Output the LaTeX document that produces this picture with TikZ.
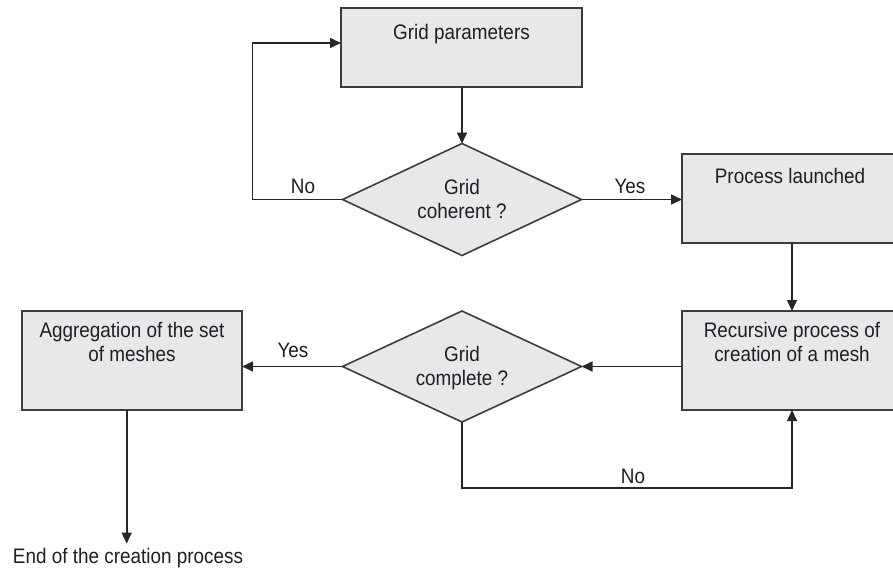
\documentclass[tikz,border=0pt]{standalone}
\usepackage{fontspec}
\setmainfont{Liberation Sans}[FakeStretch=0.9]
\usetikzlibrary{shapes.geometric,arrows.meta}
\definecolor{boxfill}{HTML}{E8E8E8}
\definecolor{boxline}{HTML}{3C3C3C}
\definecolor{ink}{HTML}{1E1E28}
\begin{document}
\begin{tikzpicture}[x=1pt,y=-1pt,
  font=\fontsize{21}{24}\selectfont,
  box/.style={draw=boxline, fill=boxfill, line width=1.6pt, rectangle, inner sep=0pt, outer sep=0pt},
  dec/.style={draw=boxline, fill=boxfill, line width=1.6pt, diamond, inner sep=0pt, outer sep=0pt, minimum width=239pt, minimum height=111pt},
  txt/.style={inner sep=0pt, align=center, text=ink},
  conn/.style={draw=black!85, line width=1.6pt, -{Triangle[length=11pt,width=10pt]}}]
\useasboundingbox (0,0) rectangle (893,571);
\clip (0,0) rectangle (893,571);

% boxes
\node[box, minimum width=241pt, minimum height=79pt] (gp) at (461.5,47.5) {};
\node[box, minimum width=220pt, minimum height=89pt] (pl) at (792,198.5) {};
\node[box, minimum width=220pt, minimum height=99pt] (rp) at (792,360.5) {};
\node[box, minimum width=220pt, minimum height=99pt] (ag) at (132,360.5) {};
\node[dec, minimum height=112pt] (d1) at (462,199.5) {};
\node[dec] (d2) at (462,366.5) {};

% texts
\node[txt, anchor=base] (gpt) at (461.5,39) {Grid parameters};
\node[txt, anchor=base] (plt) at (790,183) {Process launched};
\node[txt] (rpt) at (792,342.4) {Recursive process of\\creation of a mesh};
\node[txt] (agt) at (132,342.4) {Aggregation of the set\\of meshes};
\node[txt] (d1t) at (462,199.4) {Grid\\coherent ?};
\node[txt] (d2t) at (462,368.5) {Grid\\complete ?};
\node[txt, anchor=base, inner ysep=4pt] (end) at (128,563) {End of the creation process};

% labels
\node[txt, anchor=base] (yes1) at (630,193) {Yes};
\node[txt, anchor=base] (no1) at (303,193) {No};
\node[txt, anchor=base] (yes2) at (293,357) {Yes};
\node[txt, anchor=base] (no2) at (633,483) {No};

% connectors
\draw[conn] (gp.south -| d1.north) -- (d1.north);
\draw[conn] (d1.east) -- (d1.east -| pl.west);
\draw[conn] (d1.west) -- ++(-90,0) |- ([yshift=4.5pt]gp.west);
\draw[conn] (pl.south) -- (rp.north);
\draw[conn] (rp.west |- d2.east) -- (d2.east);
\draw[conn] (d2.west) -- (d2.west -| ag.east);
\draw[conn] (d2.south) -- ++(0,66) -| (rp.south);
\draw[conn] ([xshift=-5.3pt]ag.south) -- ([xshift=-5.3pt]ag.south |- end.north);
\end{tikzpicture}
\end{document}
